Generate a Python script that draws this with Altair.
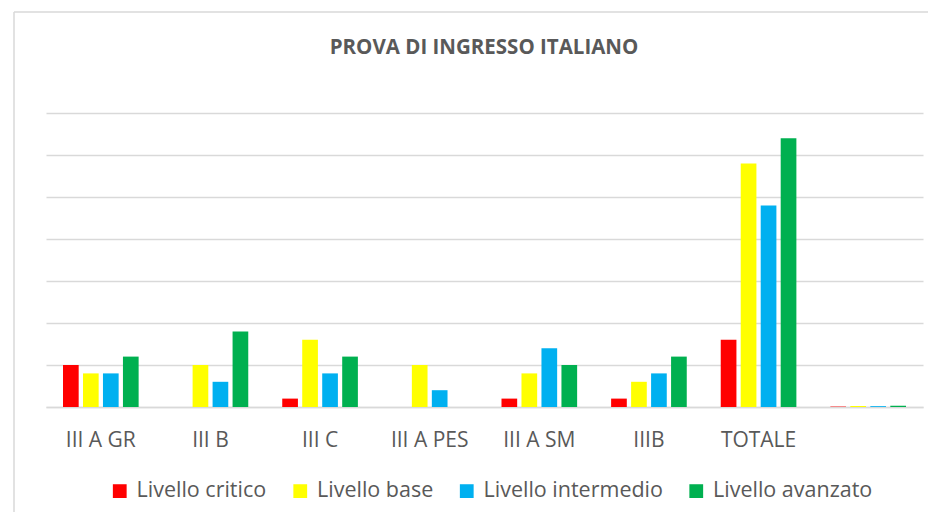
import altair as alt
import pandas as pd

title_text = "PROVA DI INGRESSO ITALIANO"
categories = ["III A GR", "III B", "III C", "III A PES", "III A SM", "IIIB", "TOTALE", " "]
levels = ["Livello critico", "Livello base", "Livello intermedio", "Livello avanzato"]
colors = ["#FF0000", "#FFFF00", "#00B0F0", "#00B050"]

critico = [5, 0, 1, 0, 1, 1, 8, 0.05]
base = [4, 5, 8, 5, 4, 3, 29, 0.12]
intermedio = [4, 3, 4, 2, 7, 4, 24, 0.1]
avanzato = [6, 9, 6, 0, 5, 6, 32, 0.15]

rows = []
for lvl, vals in zip(levels, [critico, base, intermedio, avanzato]):
    for c, v in zip(categories, vals):
        rows.append({"cat": c, "level": lvl, "value": v})
df = pd.DataFrame(rows)

GRAY = "#595959"
LINE = "#d9d9d9"

bars = alt.Chart(df).mark_bar().encode(
    x=alt.X("cat:N", sort=categories, title=None,
            scale=alt.Scale(paddingInner=0.31, paddingOuter=0.155),
            axis=alt.Axis(labelAngle=0, ticks=False, domainColor=LINE, domainWidth=1.5,
                          labelFontSize=21, labelColor=GRAY, labelPadding=22,
                          labelFont="Open Sans")),
    xOffset=alt.XOffset("level:N", sort=levels,
                        scale=alt.Scale(paddingInner=0.215, paddingOuter=0)),
    y=alt.Y("value:Q", title=None,
            scale=alt.Scale(domain=[0, 35], nice=False),
            axis=alt.Axis(values=[0, 5, 10, 15, 20, 25, 30, 35], labels=False, ticks=False,
                          domain=False, gridColor=LINE, gridWidth=1.5)),
    color=alt.Color("level:N", sort=levels,
                    scale=alt.Scale(domain=levels, range=colors),
                    legend=alt.Legend(title=None, orient="none", direction="horizontal",
                                      legendX=63, legendY=367, padding=0,
                                      symbolType="square", symbolSize=190,
                                      symbolStrokeWidth=0, labelFontSize=21.5,
                                      labelColor=GRAY, labelOffset=6,
                                      columnPadding=22.5, labelFont="Open Sans",
                                      labelLimit=400)),
)

single = alt.Data(values=[{}])
frame = alt.Chart(single).mark_rule(color=LINE, strokeWidth=1.5, clip=False)
frame_left = frame.encode(x=alt.value(-32), y=alt.value(-101), y2=alt.value(420))
frame_top = frame.encode(x=alt.value(-32), x2=alt.value(900), y=alt.value(-101))

title = alt.Chart(single).mark_text(
    text=title_text, font="Open Sans", fontSize=20.5, fontWeight="bold", color=GRAY,
    align="center", baseline="alphabetic", clip=False,
).encode(x=alt.value(438), y=alt.value(-59))

chart = alt.layer(frame_left, frame_top, title, bars).properties(
    width=877,
    height=294,
    autosize=alt.AutoSizeParams(type="none"),
    padding={"left": 38, "top": 105, "right": 5, "bottom": 105},
).configure(font="Open Sans").configure_view(stroke=None)

chart.save("out.html", embed_options={"renderer": "svg", "actions": False})
